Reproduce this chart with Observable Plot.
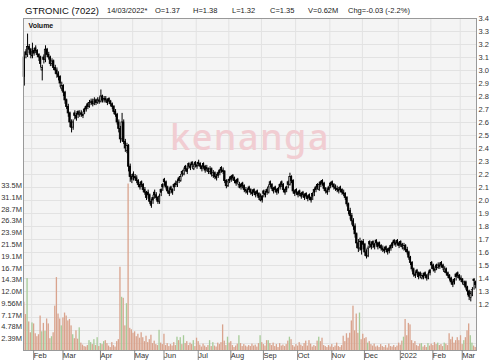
<!DOCTYPE html>
<html>
<head>
<meta charset="utf-8">
<script src="https://cdn.jsdelivr.net/npm/d3@7"></script>
<script src="https://cdn.jsdelivr.net/npm/@observablehq/plot@0.6"></script>
<style>
  body { margin: 0; background: #fff; font-family: "Liberation Sans", Arial, sans-serif; }
  #wrap { position: relative; width: 500px; height: 363px; overflow: hidden; background: #fff; }
  #wrap svg { position: absolute; left: 0; top: 0; }
  .t { position: absolute; white-space: nowrap; line-height: 1; color: #222; }
  .title { font-size: 9.5px; top: 5.8px; left: 25px; color: #111; }
  .info { font-size: 7.5px; top: 6.8px; color: #222; }
  #wm { position: absolute; left: 0; width: 500px; text-align: center; top: 119px;
        font-family: "Noto Sans", sans-serif; font-weight: 500; font-size: 36px; line-height: 36px;
        letter-spacing: 1.5px; color: #f1cdd2; }
</style>
</head>
<body>
<div id="wrap"></div>
<script>
// ---- Data (one entry per trading day, 25 Jan 2021 .. 14 Mar 2022) ----
const open = [
3.10,3.14,3.12,3.18,3.16,3.11,3.15,3.17,3.15,3.12,
3.10,3.00,3.10,3.08,3.16,3.12,3.10,3.05,3.07,3.02,
3.00,2.97,2.95,2.86,2.88,2.83,2.77,2.72,2.67,2.60,
2.56,2.67,2.65,2.68,2.66,2.67,2.66,2.70,2.72,2.74,
2.72,2.75,2.76,2.74,2.77,2.75,2.77,2.76,2.80,2.77,
2.78,2.77,2.78,2.76,2.74,2.72,2.68,2.66,2.60,2.55,
2.47,2.60,2.45,2.38,2.42,2.26,2.18,2.20,2.18,2.17,
2.15,2.12,2.14,2.12,2.08,2.06,2.06,2.04,1.99,2.02,
2.06,2.04,2.02,1.99,2.08,2.12,2.16,2.14,2.10,2.07,
2.10,2.08,2.12,2.13,2.12,2.17,2.15,2.22,2.20,2.26,
2.24,2.28,2.26,2.29,2.24,2.29,2.27,2.29,2.28,2.26,
2.28,2.26,2.25,2.24,2.22,2.24,2.19,2.21,2.18,2.21,
2.23,2.25,2.23,2.22,2.15,2.11,2.16,2.18,2.19,2.17,
2.15,2.16,2.10,2.12,2.13,2.11,2.08,2.07,2.10,2.08,
2.06,2.08,2.06,2.07,2.05,2.00,2.03,2.07,2.05,2.08,
2.06,2.14,2.12,2.09,2.10,2.08,2.09,2.12,2.14,2.12,
2.08,2.10,2.14,2.12,2.18,2.15,2.07,2.08,2.06,2.07,
2.05,2.06,2.04,2.05,2.03,2.04,2.02,2.05,2.08,2.10,
2.12,2.08,2.14,2.15,2.13,2.09,2.07,2.10,2.13,2.14,
2.12,2.10,2.09,2.08,2.10,2.08,2.06,2.05,2.02,1.97,
1.92,1.88,1.84,1.80,1.74,1.67,1.63,1.68,1.68,1.66,
1.60,1.57,1.68,1.66,1.68,1.66,1.69,1.67,1.67,1.65,
1.63,1.62,1.64,1.62,1.63,1.65,1.67,1.69,1.67,1.69,
1.67,1.68,1.66,1.63,1.65,1.62,1.60,1.56,1.52,1.47,
1.43,1.46,1.44,1.44,1.40,1.42,1.44,1.42,1.40,1.46,
1.52,1.50,1.47,1.50,1.48,1.50,1.52,1.50,1.45,1.47,
1.44,1.42,1.40,1.37,1.39,1.43,1.44,1.42,1.40,1.39,
1.35,1.37,1.33,1.30,1.25,1.27,1.39,1.37];

const high = [
3.12,3.16,3.28,3.20,3.17,3.21,3.17,3.19,3.16,3.13,
3.11,3.04,3.12,3.19,3.17,3.14,3.11,3.09,3.08,3.04,
3.02,2.99,2.96,2.91,2.89,2.84,2.78,2.74,2.68,2.62,
2.62,2.69,2.67,2.69,2.69,2.69,2.68,2.71,2.73,2.75,
2.77,2.78,2.78,2.79,2.78,2.79,2.79,2.85,2.81,2.80,
2.80,2.78,2.79,2.77,2.75,2.73,2.70,2.67,2.62,2.57,
2.67,2.62,2.47,2.44,2.43,2.28,2.20,2.22,2.20,2.19,
2.16,2.14,2.15,2.13,2.10,2.07,2.08,2.05,2.01,2.04,
2.08,2.06,2.03,2.05,2.09,2.13,2.17,2.15,2.11,2.09,
2.11,2.09,2.13,2.15,2.16,2.18,2.20,2.23,2.25,2.27,
2.26,2.29,2.28,2.30,2.28,2.30,2.29,2.31,2.29,2.27,
2.29,2.27,2.27,2.25,2.26,2.25,2.23,2.22,2.20,2.22,
2.24,2.26,2.25,2.23,2.16,2.16,2.18,2.19,2.20,2.18,
2.16,2.17,2.14,2.13,2.14,2.12,2.10,2.09,2.11,2.09,
2.08,2.09,2.07,2.08,2.06,2.05,2.04,2.08,2.07,2.09,
2.12,2.15,2.13,2.10,2.11,2.09,2.10,2.13,2.15,2.13,
2.09,2.11,2.15,2.21,2.19,2.16,2.08,2.09,2.07,2.08,
2.06,2.07,2.05,2.06,2.04,2.05,2.03,2.06,2.09,2.11,
2.13,2.14,2.15,2.16,2.14,2.10,2.09,2.11,2.14,2.15,
2.13,2.12,2.11,2.10,2.11,2.09,2.08,2.06,2.03,1.98,
1.94,1.90,1.86,1.82,1.75,1.70,1.71,1.69,1.70,1.67,
1.62,1.65,1.69,1.68,1.69,1.67,1.70,1.68,1.68,1.66,
1.65,1.64,1.65,1.63,1.64,1.66,1.68,1.70,1.69,1.70,
1.68,1.69,1.67,1.67,1.66,1.64,1.61,1.57,1.53,1.48,
1.45,1.47,1.45,1.45,1.44,1.44,1.45,1.43,1.45,1.47,
1.53,1.51,1.49,1.51,1.52,1.52,1.53,1.51,1.49,1.48,
1.45,1.43,1.41,1.39,1.40,1.44,1.45,1.43,1.42,1.40,
1.38,1.38,1.34,1.31,1.30,1.33,1.40,1.38];

const low = [
2.88,3.09,3.10,3.13,3.09,3.09,3.11,3.13,3.10,3.07,
3.02,2.92,3.05,3.06,3.10,3.08,3.03,3.03,3.00,2.97,
2.94,2.92,2.87,2.84,2.80,2.74,2.70,2.64,2.56,2.52,
2.54,2.62,2.61,2.63,2.64,2.64,2.63,2.66,2.68,2.70,
2.71,2.73,2.72,2.73,2.73,2.74,2.74,2.75,2.75,2.75,
2.75,2.73,2.74,2.72,2.70,2.66,2.64,2.58,2.52,2.44,
2.45,2.43,2.37,2.36,2.22,2.14,2.13,2.15,2.15,2.13,
2.10,2.08,2.10,2.06,2.04,2.00,2.01,1.97,1.94,1.97,
2.01,2.00,1.97,1.97,2.03,2.07,2.11,2.08,2.05,2.03,
2.05,2.04,2.07,2.10,2.10,2.13,2.14,2.18,2.19,2.22,
2.20,2.24,2.23,2.25,2.23,2.25,2.24,2.26,2.24,2.22,
2.24,2.21,2.22,2.20,2.20,2.18,2.17,2.16,2.15,2.17,
2.19,2.21,2.20,2.13,2.09,2.10,2.13,2.14,2.15,2.13,
2.11,2.12,2.09,2.08,2.09,2.06,2.05,2.04,2.06,2.04,
2.03,2.04,2.02,2.03,2.00,1.99,1.98,2.02,2.02,2.04,
2.05,2.10,2.07,2.05,2.06,2.04,2.05,2.08,2.10,2.06,
2.04,2.06,2.09,2.11,2.13,2.05,2.03,2.04,2.02,2.03,
2.01,2.02,2.00,2.01,1.99,2.00,1.98,2.00,2.03,2.06,
2.08,2.07,2.10,2.11,2.07,2.05,2.04,2.06,2.09,2.10,
2.08,2.07,2.06,2.05,2.06,2.04,2.03,2.00,1.95,1.89,
1.85,1.81,1.77,1.71,1.63,1.60,1.61,1.58,1.62,1.57,
1.55,1.56,1.63,1.62,1.63,1.62,1.65,1.62,1.63,1.61,
1.60,1.59,1.60,1.58,1.59,1.61,1.63,1.65,1.64,1.65,
1.63,1.64,1.62,1.61,1.60,1.58,1.54,1.50,1.45,1.41,
1.40,1.42,1.39,1.40,1.39,1.39,1.40,1.38,1.39,1.42,
1.47,1.45,1.44,1.46,1.47,1.47,1.48,1.46,1.44,1.42,
1.40,1.38,1.35,1.33,1.35,1.38,1.40,1.38,1.37,1.35,
1.34,1.31,1.27,1.23,1.22,1.26,1.31,1.32];

const close = [
2.95,3.12,3.18,3.16,3.12,3.14,3.13,3.15,3.12,3.10,
3.05,3.02,3.08,3.16,3.12,3.10,3.05,3.07,3.02,3.00,
2.97,2.95,2.90,2.88,2.83,2.77,2.72,2.67,2.60,2.56,
2.60,2.65,2.63,2.66,2.67,2.66,2.65,2.68,2.70,2.72,
2.75,2.76,2.74,2.77,2.75,2.77,2.76,2.80,2.77,2.78,
2.77,2.75,2.76,2.74,2.72,2.68,2.66,2.60,2.55,2.47,
2.60,2.45,2.40,2.42,2.26,2.18,2.16,2.18,2.17,2.15,
2.12,2.10,2.12,2.08,2.06,2.02,2.04,1.99,1.96,2.00,
2.04,2.02,1.99,2.03,2.06,2.10,2.14,2.10,2.07,2.05,
2.08,2.06,2.10,2.12,2.14,2.15,2.18,2.20,2.23,2.24,
2.22,2.26,2.25,2.27,2.26,2.27,2.26,2.28,2.26,2.24,
2.26,2.23,2.24,2.22,2.24,2.20,2.21,2.18,2.17,2.19,
2.21,2.23,2.22,2.15,2.11,2.14,2.15,2.16,2.17,2.15,
2.13,2.14,2.12,2.10,2.11,2.08,2.07,2.06,2.08,2.06,
2.05,2.06,2.04,2.05,2.02,2.03,2.00,2.05,2.04,2.06,
2.10,2.12,2.09,2.07,2.08,2.06,2.07,2.10,2.12,2.08,
2.06,2.08,2.12,2.18,2.15,2.07,2.05,2.06,2.04,2.05,
2.03,2.04,2.02,2.03,2.01,2.02,2.00,2.03,2.06,2.08,
2.10,2.12,2.12,2.13,2.09,2.07,2.06,2.08,2.11,2.12,
2.10,2.09,2.08,2.07,2.08,2.06,2.05,2.02,1.97,1.92,
1.88,1.84,1.80,1.74,1.67,1.63,1.68,1.62,1.66,1.60,
1.57,1.63,1.66,1.64,1.66,1.64,1.67,1.64,1.65,1.63,
1.62,1.61,1.62,1.60,1.61,1.63,1.65,1.67,1.66,1.67,
1.65,1.66,1.64,1.65,1.62,1.60,1.56,1.52,1.47,1.43,
1.42,1.44,1.41,1.42,1.42,1.41,1.42,1.40,1.43,1.44,
1.50,1.47,1.46,1.48,1.50,1.49,1.50,1.48,1.47,1.44,
1.42,1.40,1.37,1.35,1.37,1.41,1.42,1.40,1.39,1.37,
1.37,1.33,1.30,1.26,1.28,1.31,1.38,1.35];

// volume in millions of shares
const volume = [
9.8,7.3,14.6,5.8,3.6,5.6,5.4,3.4,2.8,3.2,
7.0,3.8,5.5,3.9,6.4,5.4,2.4,2.8,3.6,9.0,
14.8,7.4,6.4,5.0,6.6,7.6,7.0,6.0,6.3,5.0,
3.2,2.4,4.0,2.3,4.6,1.5,1.1,0.8,0.7,1.0,
2.0,1.6,1.2,2.2,1.0,2.6,0.8,1.4,1.2,1.8,
2.0,1.4,0.9,0.6,1.6,1.0,0.7,1.8,2.2,16.9,
10.8,10.6,5.0,9.5,33.8,4.5,4.2,3.5,3.8,2.8,
3.3,2.5,3.6,2.6,1.8,2.9,1.6,2.2,3.1,1.4,
1.9,1.2,1.0,4.1,1.5,1.2,3.3,1.0,1.4,0.8,
1.2,0.9,1.6,1.0,2.7,2.0,2.6,1.2,3.0,1.4,
1.8,1.0,1.5,1.2,2.0,0.8,2.5,1.8,1.1,0.7,
1.3,0.9,0.6,1.0,2.0,0.8,1.6,0.9,0.7,1.5,
1.2,1.6,5.2,1.9,1.0,2.7,1.5,1.8,1.0,0.6,
0.9,1.3,3.0,1.4,0.8,1.2,0.9,0.7,1.0,0.8,
1.3,0.9,1.1,0.7,1.4,3.0,1.6,1.2,0.9,2.0,
2.0,1.4,1.0,1.5,0.8,1.2,0.6,1.4,0.9,1.1,
0.8,1.2,1.9,2.7,2.2,1.0,0.7,1.2,0.9,1.6,
1.1,0.8,1.4,1.9,0.9,2.0,1.3,0.7,1.0,0.8,
1.9,2.7,1.8,2.5,1.0,0.8,0.6,1.0,0.7,1.2,
0.6,0.9,1.5,0.8,0.6,1.0,2.9,1.8,3.4,2.5,
3.5,6.0,9.0,4.0,7.4,3.5,7.6,2.2,3.3,2.4,
2.6,1.5,1.8,1.2,0.9,1.3,0.7,0.9,0.6,1.2,
0.8,0.6,1.0,0.5,1.3,0.8,0.7,1.0,0.6,0.9,
1.5,1.1,1.9,2.7,6.3,3.0,5.5,5.2,2.0,1.4,
1.8,1.0,0.8,1.3,1.4,0.7,1.0,0.6,1.4,0.9,
1.3,1.0,1.6,1.2,1.5,1.0,1.2,0.8,1.5,1.3,
1.0,3.4,2.2,2.7,1.5,2.0,2.6,2.0,3.0,1.2,
2.0,2.6,4.0,5.4,3.0,1.5,0.9,0.62];

// axis ticks and labels
const monthIdx = [5, 23, 46, 67, 85, 106, 126, 146, 167, 188, 208, 230, 250, 268];
const monthLabels = ["Feb","Mar","Apr","May","Jun","Jul","Aug","Sep","Oct","Nov","Dec","2022","Feb","Mar"];
const priceTicks = [1.2,1.3,1.4,1.5,1.6,1.7,1.8,1.9,2.0,2.1,2.2,2.3,2.4,2.5,2.6,2.7,2.8,2.9,3.0,3.1,3.2,3.3,3.4];
const gridPrices = [0.9,1.0,1.1,1.2,1.3,1.4,1.5,1.6,1.7,1.8,1.9,2.0,2.1,2.2,2.3,2.4,2.5,2.6,2.7,2.8,2.9,3.0,3.1,3.2,3.3,3.4];
const volTicks = [2.39,4.78,7.17,9.56,12.0,14.3,16.7,19.1,21.5,23.9,26.3,28.7,31.1,33.5];
const volLabels = ["2.39M","4.78M","7.17M","9.56M","12.0M","14.3M","16.7M","19.1M","21.5M","23.9M","26.3M","28.7M","31.1M","33.5M"];

const titleText = "GTRONIC (7022)";
const infoTexts = ["14/03/2022*","O=1.37","H=1.38","L=1.32","C=1.35","V=0.62M","Chg=-0.03 (-2.2%)"];
const infoLeft = [107,155,193,232,270,308,348];

const days = close.map((c, i) => ({i, o: open[i], h: high[i], l: low[i], c, v: volume[i]}));
const green = "#a6cb98", salmon = "#d9a38d";

const common = {
  width: 500, height: 363,
  marginTop: 18, marginBottom: 13, marginLeft: 23, marginRight: 24,
  x: {domain: [0, 278], axis: null},
  color: {type: "identity"}
};
const font = {fontFamily: "'Liberation Sans', Arial, sans-serif", fontSize: "7.5px", color: "#333", overflow: "visible"};

const wrap = document.getElementById("wrap");

// layer 1: background + grid
const gridLayer = Plot.plot({
  ...common,
  style: {...font, background: "white"},
  y: {domain: [0.846, 3.4], axis: null},
  marks: [
    Plot.frame({fill: "#f4f4f4", stroke: null}),
    Plot.gridY(gridPrices, {stroke: "#e2e2e2", strokeOpacity: 1}),
    Plot.gridX(monthIdx, {stroke: "#e2e2e2", strokeOpacity: 1})
  ]
});
wrap.appendChild(gridLayer);

// watermark
const wm = document.createElement("div");
wm.id = "wm";
wm.textContent = "kenanga";
wrap.appendChild(wm);

// layer 2: volume
const volLayer = Plot.plot({
  ...common,
  style: {...font, background: "transparent"},
  y: {domain: [0, 67.4], axis: null},
  marks: [
    Plot.rect(days, {x1: d => d.i + 0.1, x2: d => d.i + 0.9, y1: 0, y2: "v",
      fill: d => d.c >= d.o ? green : salmon}),
    Plot.axisY({anchor: "left", ticks: volTicks, tickSize: 0, tickPadding: 1.5,
      tickFormat: d => volLabels[volTicks.indexOf(d)], label: null, fill: "#333"}),
    Plot.text(["Volume"], {frameAnchor: "top-left", dx: 5, dy: 5, textAnchor: "start", lineAnchor: "top",
      fontWeight: "bold", fontSize: 7, fill: "#111"})
  ]
});
wrap.appendChild(volLayer);

// layer 3: price candles
const priceLayer = Plot.plot({
  ...common,
  style: {...font, background: "transparent"},
  y: {domain: [0.846, 3.4], axis: null},
  marks: [
    Plot.ruleX(days, {x: d => d.i + 0.5, y1: "l", y2: "h", stroke: "#000", strokeWidth: 1}),
    Plot.rect(days, {x1: d => d.i + 0.1, x2: d => d.i + 0.9, y1: "o", y2: "c",
      fill: d => d.c >= d.o ? "#ffffff" : "#000000", stroke: "#000", strokeWidth: 0.8}),
    Plot.frame({stroke: "#999"}),
    Plot.axisY({anchor: "right", ticks: priceTicks, tickSize: 0, tickPadding: 2,
      tickFormat: d => d.toFixed(1), label: null, fill: "#333"}),
    Plot.axisX({ticks: monthIdx, tickFormat: d => monthLabels[monthIdx.indexOf(d)],
      tickSize: 10, tickPadding: -8, textAnchor: "start", dx: 2, label: null,
      stroke: "#888", fill: "#333"})
  ]
});
wrap.appendChild(priceLayer);

// title row
const t = document.createElement("div");
t.className = "t title"; t.textContent = titleText; wrap.appendChild(t);
infoTexts.forEach((s, k) => {
  const e = document.createElement("div");
  e.className = "t info"; e.style.left = infoLeft[k] + "px"; e.textContent = s;
  wrap.appendChild(e);
});
</script>
</body>
</html>
